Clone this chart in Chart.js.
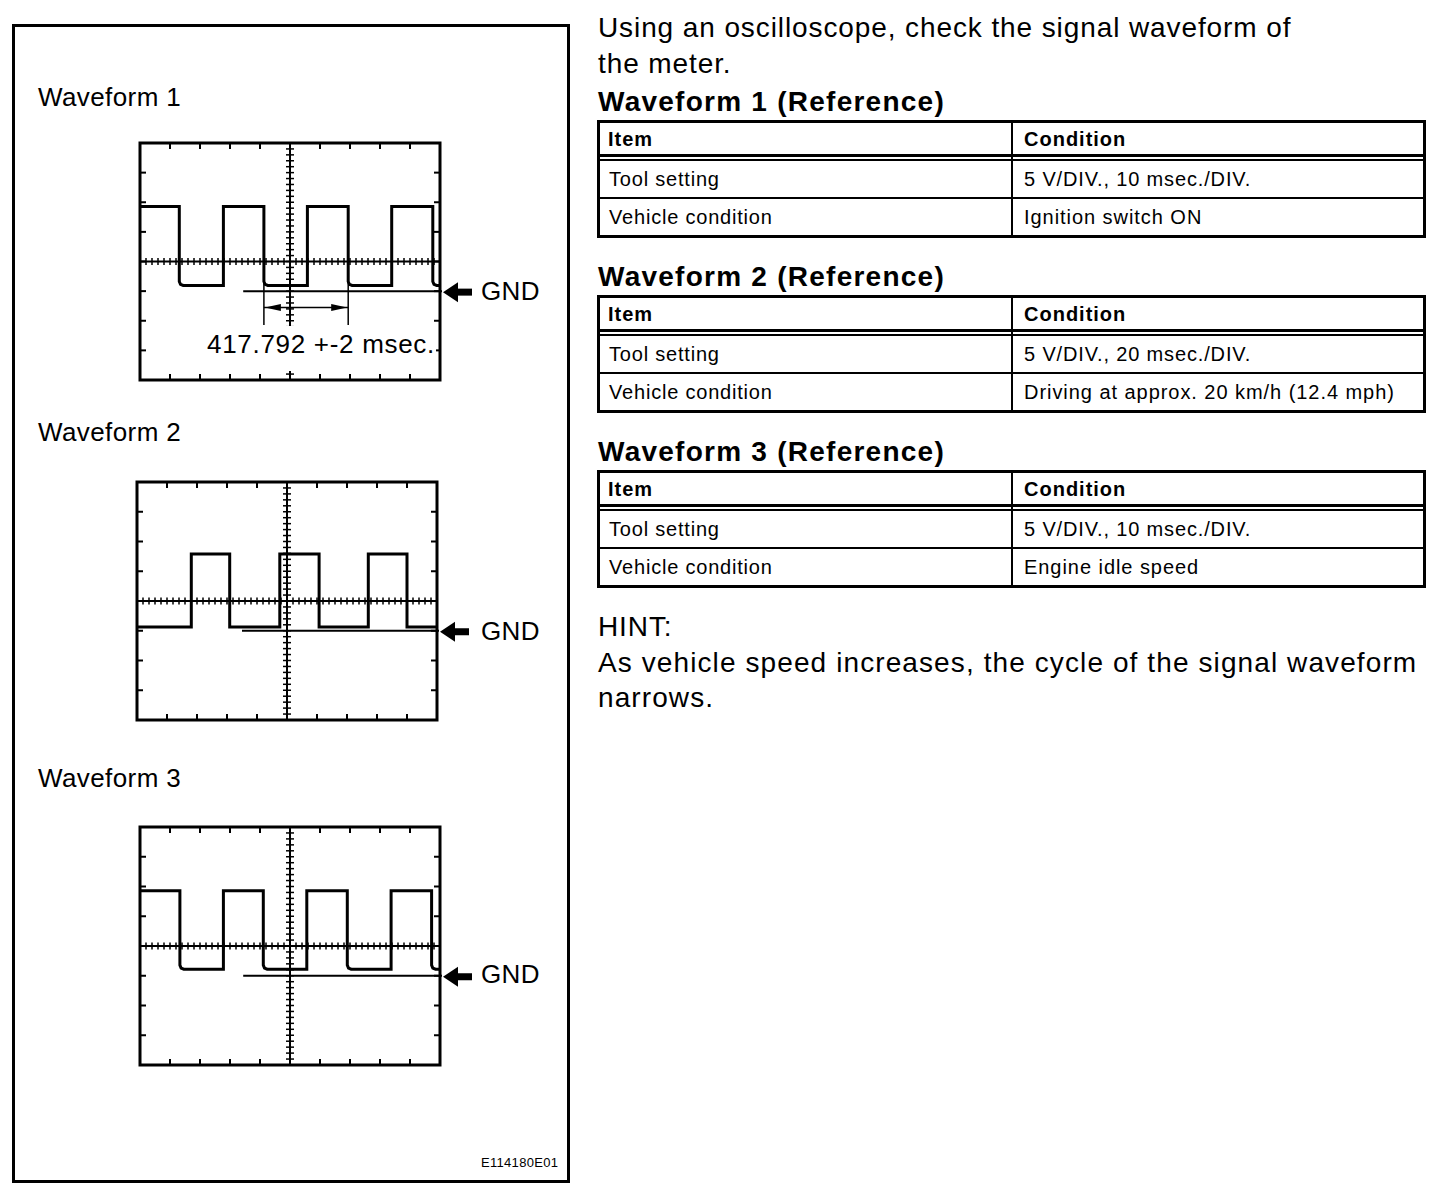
<!DOCTYPE html>
<html><head><meta charset="utf-8">
<script src="https://cdn.jsdelivr.net/npm/chart.js@4.4.1/dist/chart.umd.min.js"></script>
<style>
html,body{margin:0;padding:0;background:#fff;}
body{width:1456px;height:1200px;position:relative;overflow:hidden;font-family:"Liberation Sans",Arial,Helvetica,sans-serif;color:#000;}
.t{position:absolute;white-space:nowrap;line-height:1;}
#frame{position:absolute;left:12px;top:24px;width:558px;height:1159px;border:3px solid #000;box-sizing:border-box;}
canvas{position:absolute;}
.ln{position:absolute;background:#000;}
#mlabel{background:#fff;}
</style></head><body>
<div id="frame"></div>
<canvas id="c1" width="350" height="257" style="left:130px;top:133px"></canvas>
<canvas id="c2" width="350" height="258" style="left:127px;top:472px"></canvas>
<canvas id="c3" width="350" height="258" style="left:130px;top:817px"></canvas>
<script>
// ---------- DATA ----------
// Waveform 1: 5 V/DIV, 10 msec./DIV  (time in ms, voltage in V, GND = 0 V)
const wave1Time = [0, 13.1, 13.1, 13.5, 14.4, 27.8, 27.8, 41.3, 41.3, 41.7, 42.6, 55.8, 55.8, 69.4, 69.4, 69.8, 70.7, 83.9, 83.9, 97.6, 97.6, 98.0, 98.9, 100];
const wave1Volt = [14.3, 14.3, 1.63, 1.15, 0.95, 0.95, 14.3, 14.3, 1.63, 1.15, 0.95, 0.95, 14.3, 14.3, 1.63, 1.15, 0.95, 0.95, 14.3, 14.3, 1.63, 1.15, 0.95, 0.95];
// Waveform 2: 5 V/DIV, 20 msec./DIV
const wave2Time = [0, 36.2, 36.2, 61.8, 61.8, 95.2, 95.2, 121.4, 121.4, 154.2, 154.2, 180, 180, 200];
const wave2Volt = [0.65, 0.65, 12.9, 12.9, 0.65, 0.65, 12.9, 12.9, 0.65, 0.65, 12.9, 12.9, 0.65, 0.65];
// Waveform 3: 5 V/DIV, 10 msec./DIV
const wave3Time = [0, 13.3, 13.3, 13.7, 14.6, 27.8, 27.8, 41.1, 41.1, 41.5, 42.4, 55.6, 55.6, 69.1, 69.1, 69.5, 70.4, 83.7, 83.7, 97.2, 97.2, 97.6, 98.5, 100];
const wave3Volt = [14.3, 14.3, 1.78, 1.3, 1.1, 1.1, 14.3, 14.3, 1.78, 1.3, 1.1, 1.1, 14.3, 14.3, 1.78, 1.3, 1.1, 1.1, 14.3, 14.3, 1.78, 1.3, 1.1, 1.1];

// screen scales: 10 horizontal divisions, 8 vertical divisions, GND one division below centre
const voltsPerDiv = 5;
const voltRange = [-15, 25];
const timeRange1 = [0, 100];
const timeRange2 = [0, 200];
const timeRange3 = [0, 100];
// start of the GND reference line (ms)
const gndStart = [34.4, 70, 34.4];
// period measurement of waveform 1 (ms / V)
const measureEdges = [41.3, 69.4];
const measureArrowV = -2.77;
const measureLineV = [1.6, -5.7];
const measureLabel = "417.792 +-2 msec.";

// ---------- text ----------
const introLines = ["Using an oscilloscope, check the signal waveform of", "the meter."];
const waveLabels = ["Waveform 1", "Waveform 2", "Waveform 3"];
const tableHeadings = ["Waveform 1 (Reference)", "Waveform 2 (Reference)", "Waveform 3 (Reference)"];
const tableHeader = ["Item", "Condition"];
const tableRowNames = ["Tool setting", "Vehicle condition"];
const toolSettings = ["5 V/DIV., 10 msec./DIV.", "5 V/DIV., 20 msec./DIV.", "5 V/DIV., 10 msec./DIV."];
const vehicleConditions = ["Ignition switch ON", "Driving at approx. 20 km/h (12.4 mph)", "Engine idle speed"];
const hintLines = ["HINT:", "As vehicle speed increases, the cycle of the signal waveform", "narrows."];
const figureCode = "E114180E01";

// ---------- html text helpers ----------
function addText(str, x, baseline, size, opts) {
  opts = opts || {};
  const d = document.createElement('div');
  d.className = 't';
  d.textContent = str;
  d.style.left = x + 'px';
  d.style.top = (baseline - 0.8465 * size) + 'px';
  d.style.fontSize = size + 'px';
  if (opts.bold) d.style.fontWeight = 'bold';
  if (opts.ls) d.style.letterSpacing = opts.ls + 'px';
  document.body.appendChild(d);
  return d;
}
function addLine(x, y, w, h) {
  const d = document.createElement('div');
  d.className = 'ln';
  d.style.left = x + 'px'; d.style.top = y + 'px';
  d.style.width = w + 'px'; d.style.height = h + 'px';
  document.body.appendChild(d);
}

// left panel labels
const waveLabelBase = [106, 441, 787];
waveLabels.forEach((s, i) => addText(s, 38, waveLabelBase[i], 26, {ls: 0.4}));
const gndBase = [300, 640, 983];
gndBase.forEach(b => addText("GND", 481, b, 26, {ls: 0.4}));
addText(figureCode, 481, 1167, 13, {ls: 0.3});

// right side text
addText(introLines[0], 598, 38, 28, {ls: 0.9});
addText(introLines[1], 598, 74, 28, {ls: 0.9});

function buildTable(top, idx) {
  const L = 597, R = 1426, H = 118;
  addText(tableHeadings[idx], 598, top - 8, 28, {bold: true, ls: 1.25});
  // outer frame
  addLine(L, top, R - L, 3);
  addLine(L, top + H - 3, R - L, 3);
  addLine(L, top, 3, H);
  addLine(R - 3, top, 3, H);
  // double line under header
  addLine(L, top + 34, R - L, 3.4);
  addLine(L, top + 39.3, R - L, 1.7);
  // row line
  addLine(L, top + 77, R - L, 2);
  // column divider
  addLine(1011, top, 2, H);
  addText(tableHeader[0], 608, top + 26, 20, {bold: true, ls: 1});
  addText(tableHeader[1], 1024, top + 26, 20, {bold: true, ls: 1});
  addText(tableRowNames[0], 609, top + 66, 20, {ls: 0.8});
  addText(toolSettings[idx], 1024, top + 66, 20, {ls: 0.85});
  addText(tableRowNames[1], 609, top + 104, 20, {ls: 0.8});
  addText(vehicleConditions[idx], 1024, top + 104, 20, {ls: 0.95});
}
buildTable(120, 0);
buildTable(295, 1);
buildTable(470, 2);

addText(hintLines[0], 598, 637, 28, {ls: 0.9});
addText(hintLines[1], 598, 673, 28, {ls: 1.1});
addText(hintLines[2], 598, 708, 28, {ls: 1.1});

// label of the period measurement (white background hides the grid behind it)
const ml = addText(measureLabel, 207, 353, 26, {ls: 0.7});
ml.id = 'mlabel';
ml.style.zIndex = 2;
ml.style.padding = '5px 1px 14px 1px';
ml.style.marginLeft = '-1px';
ml.style.marginTop = '-5px';

// ---------- oscilloscope plugin (uses the chart's own scales) ----------
function seg(ctx, x1, y1, x2, y2) { ctx.beginPath(); ctx.moveTo(x1, y1); ctx.lineTo(x2, y2); ctx.stroke(); }
const scopePlugin = {
  id: 'scope',
  beforeDatasetsDraw(chart, args, o) {
    const ctx = chart.ctx, a = chart.chartArea, xs = chart.scales.x, ys = chart.scales.y;
    const xDiv = (xs.max - xs.min) / 10, yDiv = o.yDiv;
    const cx = xs.getPixelForValue((xs.min + xs.max) / 2);
    const cy = ys.getPixelForValue((ys.min + ys.max) / 2);
    ctx.save();
    ctx.strokeStyle = '#000';
    ctx.lineCap = 'butt';
    ctx.lineWidth = 2;
    seg(ctx, cx, a.top, cx, a.bottom);
    seg(ctx, a.left, cy, a.right, cy);
    ctx.lineWidth = 1.5;
    for (let i = 0; i <= 50; i++) {
      const px = xs.getPixelForValue(xs.min + i * xDiv / 5);
      seg(ctx, px, cy - 3.5, px, cy + 3.5);
    }
    for (let i = 0; i <= 40; i++) {
      const py = ys.getPixelForValue(ys.min + i * yDiv / 5);
      seg(ctx, cx - 4, py, cx + 4, py);
    }
    ctx.lineWidth = 2;
    for (let i = 1; i < 10; i++) {
      const px = xs.getPixelForValue(xs.min + i * xDiv);
      seg(ctx, px, a.top, px, a.top + 6);
      seg(ctx, px, a.bottom - 6, px, a.bottom);
    }
    for (let i = 1; i < 8; i++) {
      const py = ys.getPixelForValue(ys.min + i * yDiv);
      seg(ctx, a.left, py, a.left + 6, py);
      seg(ctx, a.right - 6, py, a.right, py);
    }
    ctx.lineWidth = 3;
    ctx.strokeRect(a.left, a.top, a.right - a.left, a.bottom - a.top);
    ctx.restore();
  },
  afterDatasetsDraw(chart, args, o) {
    const ctx = chart.ctx, a = chart.chartArea, xs = chart.scales.x, ys = chart.scales.y;
    ctx.save();
    ctx.strokeStyle = '#000';
    ctx.fillStyle = '#000';
    // GND reference line
    const gy = ys.getPixelForValue(0);
    ctx.lineWidth = 2;
    seg(ctx, xs.getPixelForValue(o.gndFrom), gy, a.right + 2, gy);
    // GND arrow
    const tip = a.right + 3, ay = gy + 1;
    ctx.beginPath();
    ctx.moveTo(tip, ay);
    ctx.lineTo(tip + 15, ay - 10);
    ctx.lineTo(tip + 15, ay + 10);
    ctx.closePath();
    ctx.fill();
    ctx.fillRect(tip + 14, ay - 3.5, 15, 7);
    // measurement
    if (o.measure) {
      const m = o.measure;
      const x1 = xs.getPixelForValue(m.edges[0]), x2 = xs.getPixelForValue(m.edges[1]);
      const yt = ys.getPixelForValue(m.lineV[0]), yb = ys.getPixelForValue(m.lineV[1]);
      const ya = ys.getPixelForValue(m.arrowV);
      ctx.lineWidth = 1.5;
      seg(ctx, x1, yt, x1, yb);
      seg(ctx, x2, yt, x2, yb);
      seg(ctx, x1, ya, x2, ya);
      ctx.beginPath();
      ctx.moveTo(x1 + 1, ya); ctx.lineTo(x1 + 17, ya - 3.5); ctx.lineTo(x1 + 17, ya + 3.5); ctx.closePath(); ctx.fill();
      ctx.beginPath();
      ctx.moveTo(x2 - 1, ya); ctx.lineTo(x2 - 17, ya - 3.5); ctx.lineTo(x2 - 17, ya + 3.5); ctx.closePath(); ctx.fill();
    }
    ctx.restore();
  }
};

function makeScope(id, times, volts, tRange, gndFrom, measure) {
  const pts = times.map((t, i) => ({x: t, y: volts[i]}));
  return new Chart(document.getElementById(id), {
    type: 'line',
    data: {datasets: [{
      data: pts,
      borderColor: '#000',
      borderWidth: 3,
      borderJoinStyle: 'miter',
      pointRadius: 0,
      tension: 0,
      fill: false
    }]},
    options: {
      responsive: false,
      animation: false,
      devicePixelRatio: 1,
      events: [],
      layout: {padding: {left: 10, top: 10, right: 40, bottom: 10}},
      scales: {
        x: {type: 'linear', min: tRange[0], max: tRange[1], display: false},
        y: {type: 'linear', min: voltRange[0], max: voltRange[1], display: false}
      },
      plugins: {
        legend: {display: false},
        tooltip: {enabled: false},
        scope: {yDiv: voltsPerDiv, gndFrom: gndFrom, measure: measure}
      }
    },
    plugins: [scopePlugin]
  });
}
makeScope('c1', wave1Time, wave1Volt, timeRange1, gndStart[0], {edges: measureEdges, lineV: measureLineV, arrowV: measureArrowV});
makeScope('c2', wave2Time, wave2Volt, timeRange2, gndStart[1], null);
makeScope('c3', wave3Time, wave3Volt, timeRange3, gndStart[2], null);
</script>
</body></html>
